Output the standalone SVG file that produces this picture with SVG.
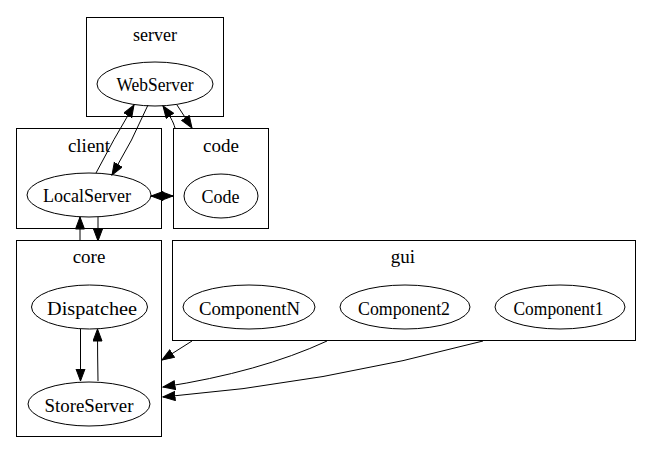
<svg xmlns="http://www.w3.org/2000/svg" width="652" height="464" viewBox="0 0 652 464">
<defs>
<style>
.cl{fill:none;stroke:#000;stroke-width:1}
.nd{fill:#fff;stroke:#000;stroke-width:1}
text{font-family:"Liberation Serif","Times New Roman",serif;font-size:19px;fill:#000;text-anchor:middle}
.e{fill:none;stroke:#000;stroke-width:1;marker-end:url(#ah)}
</style>
<marker id="ah" markerUnits="userSpaceOnUse" markerWidth="14" markerHeight="11" refX="12.5" refY="5" orient="auto">
<path d="M0.5,0.5 L12.5,5 L0.5,9.5 z" fill="#000" stroke="#000" stroke-width="1"/>
</marker>
</defs>
<rect width="652" height="464" fill="#fff"/>
<g id="cluster_server"><rect class="cl" x="86.5" y="17.5" width="137" height="99"/><text x="155" y="41" textLength="44" lengthAdjust="spacingAndGlyphs">server</text></g>
<g id="cluster_client"><rect class="cl" x="16.5" y="128.5" width="145" height="100"/><text x="89" y="152">client</text></g>
<g id="cluster_code"><rect class="cl" x="173.5" y="128.5" width="95" height="100"/><text x="221" y="152">code</text></g>
<g id="cluster_core"><rect class="cl" x="16.5" y="240.5" width="145" height="196"/><text x="89" y="263">core</text></g>
<g id="cluster_gui"><rect class="cl" x="172.5" y="240.5" width="463" height="100"/><text x="403" y="263">gui</text></g>
<g id="WebServer"><ellipse class="nd" cx="155" cy="84" rx="58" ry="22"/><text x="155" y="91" textLength="77" lengthAdjust="spacingAndGlyphs">WebServer</text></g>
<g id="LocalServer"><ellipse class="nd" cx="89" cy="195" rx="62" ry="22"/><text x="87" y="202" textLength="88" lengthAdjust="spacingAndGlyphs">LocalServer</text></g>
<g id="Code"><ellipse class="nd" cx="221" cy="196" rx="37" ry="22"/><text x="220.5" y="203" textLength="38" lengthAdjust="spacingAndGlyphs">Code</text></g>
<g id="Dispatchee"><ellipse class="nd" cx="89.5" cy="307" rx="58" ry="22"/><text x="92" y="315" textLength="90" lengthAdjust="spacingAndGlyphs">Dispatchee</text></g>
<g id="StoreServer"><ellipse class="nd" cx="89" cy="404" rx="61" ry="22"/><text x="89" y="412" textLength="89" lengthAdjust="spacingAndGlyphs">StoreServer</text></g>
<g id="ComponentN"><ellipse class="nd" cx="249" cy="307" rx="66" ry="22"/><text x="249.5" y="315" textLength="101" lengthAdjust="spacingAndGlyphs">ComponentN</text></g>
<g id="Component2"><ellipse class="nd" cx="405" cy="307" rx="65" ry="22"/><text x="404" y="315" textLength="92" lengthAdjust="spacingAndGlyphs">Component2</text></g>
<g id="Component1"><ellipse class="nd" cx="560" cy="307" rx="65" ry="22"/><text x="558.5" y="315" textLength="90" lengthAdjust="spacingAndGlyphs">Component1</text></g>
<g id="edges">
<path class="e" d="M96,173 Q113,140 134,105"/>
<path class="e" d="M148,105 Q133,140 112,175"/>
<path class="e" d="M175,128 C173,121 170,116 163,106"/>
<path class="e" d="M177,105 L192,128"/>
<path class="e" d="M151,196 L173,196"/>
<path class="e" d="M173,196 L151,196"/>
<path class="e" d="M80,241 L80,217"/>
<path class="e" d="M98,217 L98,241"/>
<path class="e" d="M80.5,329 L80.5,381"/>
<path class="e" d="M98,381 Q97.5,355 97.5,329"/>
<path class="e" d="M192,341 L162,360"/>
<path class="e" d="M327,341 Q260,372 163,387"/>
<path class="e" d="M483,341 Q323,384 163,397"/>
</g>
</svg>
